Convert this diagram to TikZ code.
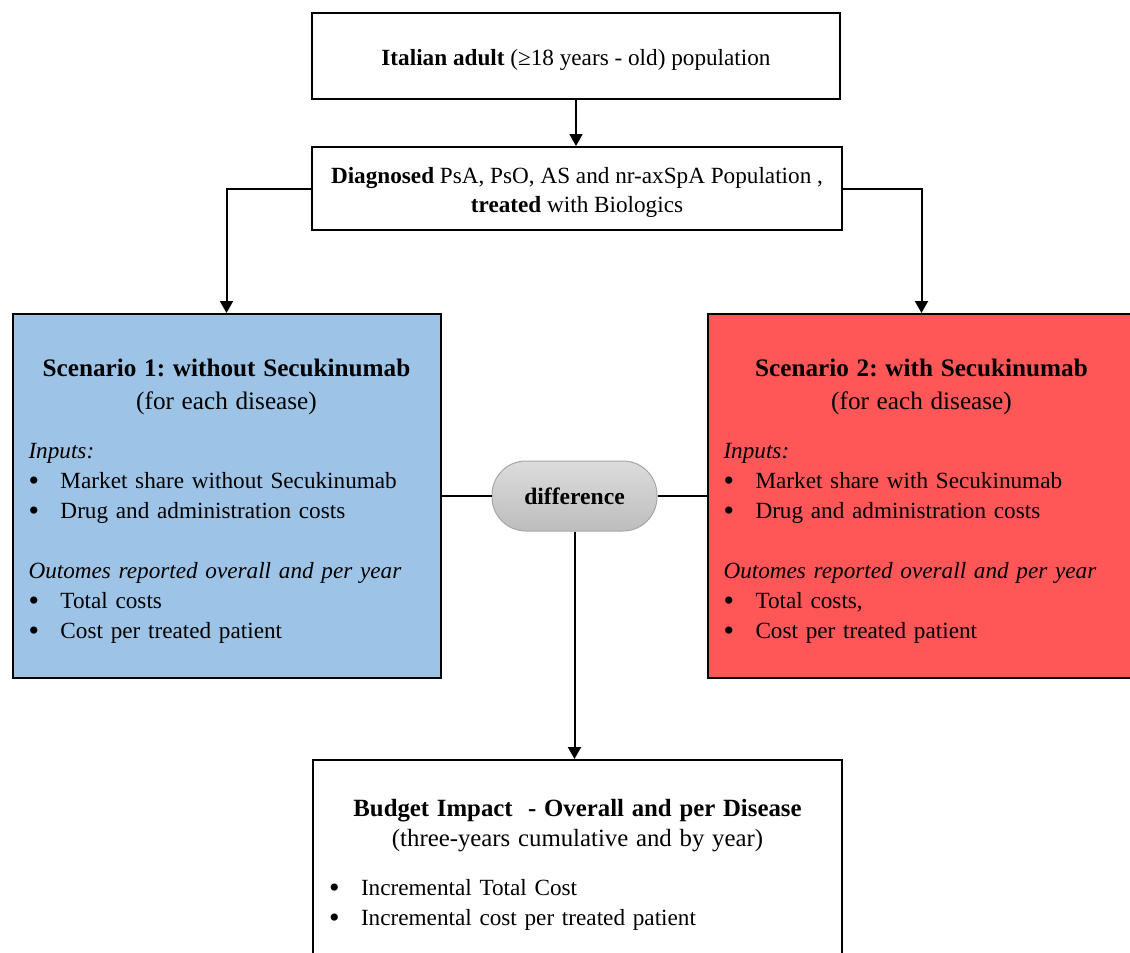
\documentclass[tikz,border=0pt]{standalone}
\usepackage{fontspec}
\setmainfont{Liberation Serif}
\usepackage{xcolor}
\usepackage{tikz}
\usetikzlibrary{arrows.meta,positioning,calc}
\definecolor{ScenBlue}{HTML}{9DC3E6}
\definecolor{ScenRed}{HTML}{FF5757}
\definecolor{DiffTop}{HTML}{DCDCDC}
\definecolor{DiffBot}{HTML}{BDBDBD}
\definecolor{DiffLine}{HTML}{A6A6A6}
\setlength{\parindent}{0pt}
\frenchspacing
\newcommand{\bul}[1]{\makebox[16pt][l]{\raisebox{-1pt}{\fontsize{15}{15}\selectfont\textbullet}}#1}
\newcommand{\headfont}{\fontsize{12.6}{16.5}\selectfont}

\begin{document}
\begin{tikzpicture}[x=0.5pt,y=-0.5pt,
  box/.style={draw,line width=1pt,align=center,font=\fontsize{11.6}{14.5}\selectfont,inner sep=0pt},
  scen/.style={draw,line width=1pt,font=\fontsize{11.6}{15}\selectfont,inner xsep=8pt,
    text width=198pt,minimum width=214pt,minimum height=182pt},
  diff/.style={draw=DiffLine,line width=0.5pt,rounded corners=17pt,top color=DiffTop,bottom color=DiffBot,
    minimum width=82.5pt,minimum height=35pt,font=\fontsize{11.8}{14}\selectfont\bfseries},
  arr/.style={-{Triangle[length=6pt,width=6.5pt]},line width=1pt},
  link/.style={line width=1pt}]
\clip (0,0) rectangle (1130,953);
\node[box,minimum width=264pt,minimum height=43pt] (adult) at (576,56)
  {\rule{0pt}{12.5pt}\textbf{Italian adult} (≥18 years - old) population};
\node[box,minimum width=265pt,minimum height=41.5pt] (diag) at (577,188.5)
  {\rule{0pt}{12pt}\textbf{Diagnosed} PsA, PsO, AS and nr-axSpA Population ,\\\textbf{treated} with Biologics};
\node[scen,fill=ScenBlue] (scen1) at (226.5,496) {%
  {\centering\headfont\rule{0pt}{14pt}\textbf{Scenario 1: without Secukinumab}\\(for each disease)\par}\vspace{9.5pt}%
  \raggedright\textit{Inputs:}\\
  \bul{Market share without Secukinumab}\\
  \bul{Drug and administration costs}\\[15pt]
  \textit{Outomes reported overall and per year}\\
  \bul{Total costs}\\
  \bul{Cost per treated patient}};
\node[scen,fill=ScenRed] (scen2) at (921.5,496) {%
  {\centering\headfont\rule{0pt}{14pt}\textbf{Scenario 2: with Secukinumab}\\(for each disease)\par}\vspace{9.5pt}%
  \raggedright\textit{Inputs:}\\
  \bul{Market share with Secukinumab}\\
  \bul{Drug and administration costs}\\[15pt]
  \textit{Outomes reported overall and per year}\\
  \bul{Total costs,}\\
  \bul{Cost per treated patient}};
\node[diff] (delta) at (574.5,496) {difference};
\node[scen,text width=248.5pt,minimum width=264.5pt,minimum height=100pt] (impact) at (577.5,860) {%
  {\centering\fontsize{12.4}{15}\selectfont\rule{0pt}{13.5pt}\textbf{Budget Impact~ - Overall and per Disease}\\(three-years cumulative and by year)\par}\vspace{9.5pt}%
  \raggedright
  \bul{Incremental Total Cost}\\
  \bul{Incremental cost per treated patient}};
\draw[arr] (adult.south) -- (adult.south |- diag.north);
\draw[arr] (diag.west) -| (scen1.north);
\draw[arr] (diag.east) -| (scen2.north);
\foreach \x/\y in {scen1/delta,delta/scen2}\draw[link] (\x) -- (\y);
\draw[arr] (delta.south) -- (delta.south |- impact.north);
\end{tikzpicture}
\end{document}
